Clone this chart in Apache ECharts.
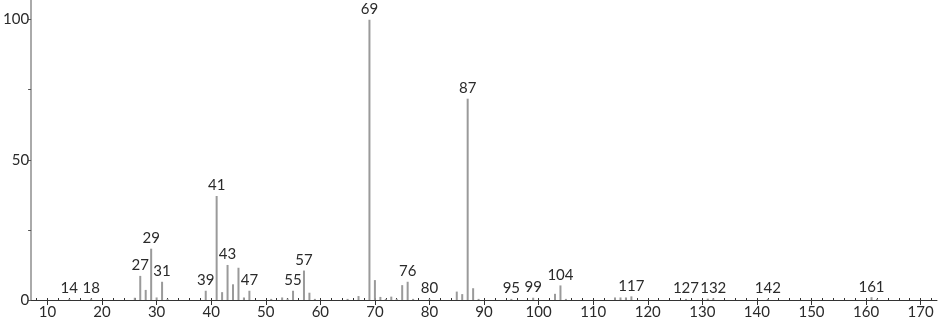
<!DOCTYPE html>
<html>
<head>
<meta charset="utf-8">
<script src="https://cdn.jsdelivr.net/npm/echarts@6/dist/echarts.min.js"></script>
<style>html,body{margin:0;padding:0;background:#fff}#c{width:940px;height:322px}</style>
</head>
<body>
<div id="c"></div>
<script>
const masses = [14,18,26,27,28,29,30,31,32,39,41,42,43,44,45,46,47,51,53,54,55,57,58,59,65,67,69,70,71,72,73,74,75,76,77,80,85,86,87,88,89,95,99,103,104,105,114,115,116,117,127,131,132,142,161,162];
const intensities = [0.4,0.5,0.8,8.6,3.6,18.3,0.9,6.5,0.4,3.3,37.1,2.8,12.5,5.6,11.5,0.9,3.3,0.4,0.9,0.5,3.3,10.5,2.6,0.4,0.4,1.4,100,7.1,1.1,0.4,1.2,0.4,5.3,6.5,0.4,0.4,3.0,2.1,71.8,4.2,0.4,0.4,0.8,2.2,5.2,0.4,0.9,0.9,0.9,1.3,0.4,0.5,0.6,0.4,1.0,0.4];
const labeledMasses = [14,18,27,29,31,39,41,43,47,55,57,69,76,80,87,95,99,104,117,127,132,142,161];
const xMajorTicks = [10,20,30,40,50,60,70,80,90,100,110,120,130,140,150,160,170];
const xMinorTicks = [];
for (let v = 8; v <= 172; v += 2) xMinorTicks.push(v);
const yTicks = [0,25,50,75,100];
const yLabels = [0,50,100];

const FONT = 'Lato';
const data = masses.map((m, i) => {
  const item = { value: [m, intensities[i]] };
  if (labeledMasses.includes(m)) {
    item.label = { show: true };
  }
  return item;
});

const chart = echarts.init(document.getElementById('c'));
chart.setOption({
  animation: false,
  grid: { left: 29, right: 3, top: 0, bottom: 22 },
  xAxis: [{
    type: 'value', min: 7, max: 173, position: 'bottom',
    axisLine: { show: true, lineStyle: { color: '#333', width: 1 } },
    axisTick: { show: true, length: 5, customValues: xMajorTicks, lineStyle: { color: '#333' } },
    axisLabel: { show: true, customValues: xMajorTicks, margin: 5, fontFamily: FONT, fontSize: 15, color: '#2a2a2a' },
    splitLine: { show: false }
  }, {
    type: 'value', min: 7, max: 173, position: 'bottom', offset: 0,
    axisLine: { show: false },
    axisTick: { show: true, inside: true, length: 2, customValues: xMinorTicks, lineStyle: { color: '#333' } },
    axisLabel: { show: false },
    splitLine: { show: false }
  }],
  yAxis: {
    type: 'value', min: 0, max: 107,
    axisLine: { show: true, lineStyle: { color: '#aaa', width: 2 } },
    axisTick: { show: true, length: 3, customValues: yTicks, lineStyle: { color: '#555' } },
    axisLabel: { show: true, customValues: yLabels, margin: 2, fontFamily: FONT, fontSize: 15, color: '#2a2a2a' },
    splitLine: { show: false }
  },
  series: [{
    type: 'bar',
    xAxisIndex: 0,
    barWidth: 2,
    itemStyle: { color: '#9a9a9a' },
    label: {
      show: false, position: 'top', distance: 3,
      fontFamily: FONT, fontSize: 15, color: '#2a2a2a',
      formatter: p => String(p.value[0])
    },
    data: data
  }]
});
</script>
</body>
</html>
